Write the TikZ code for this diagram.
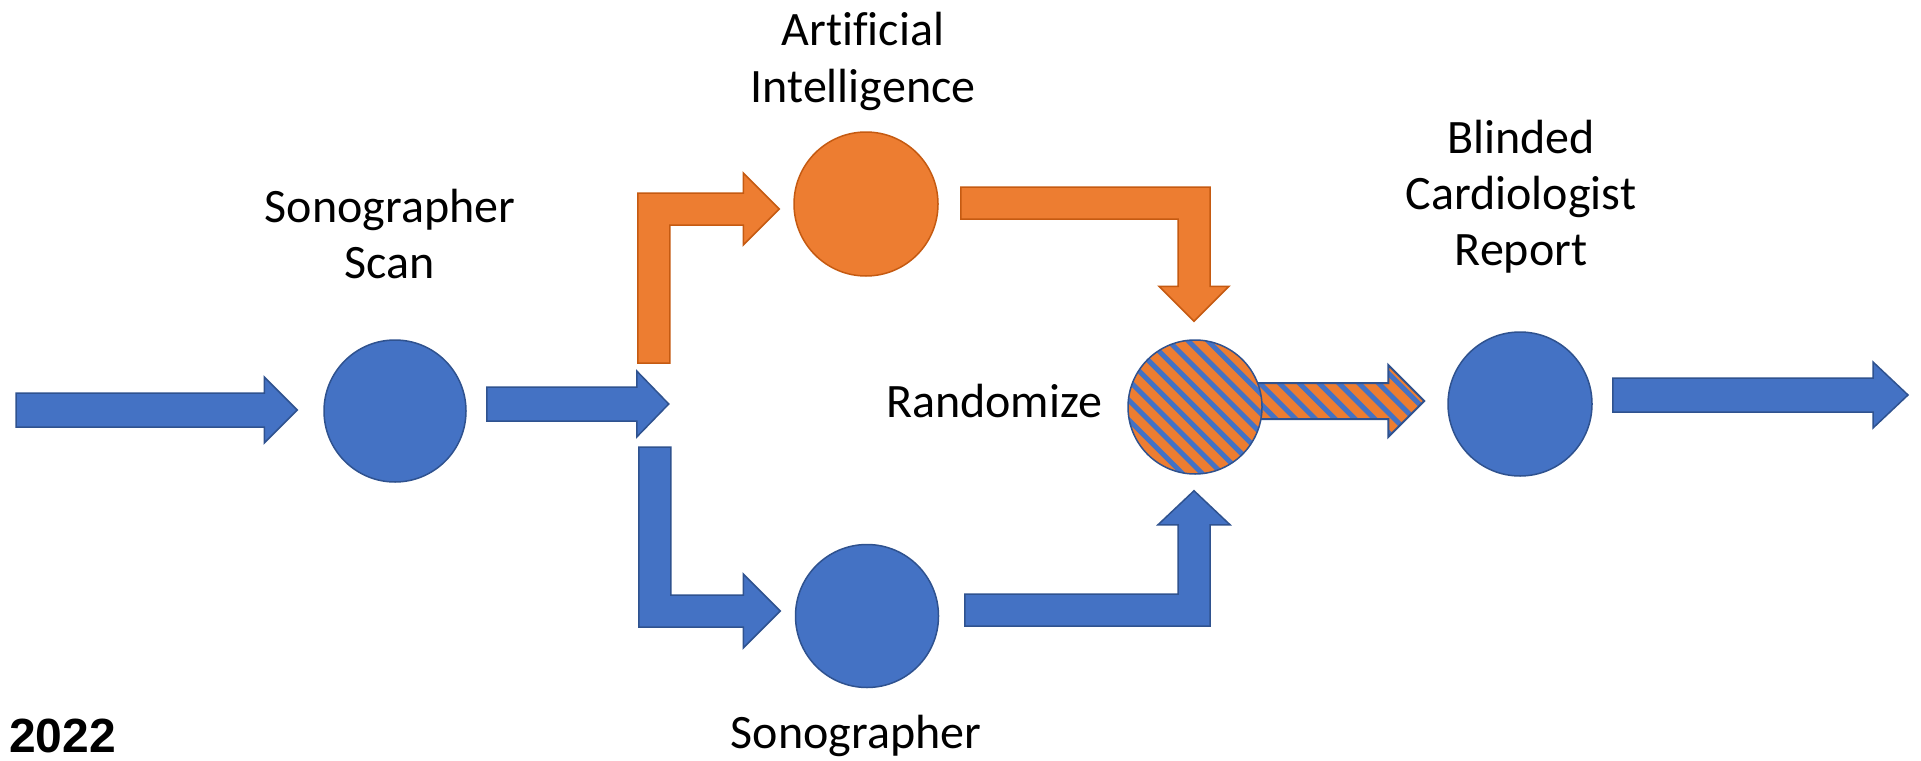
\documentclass[tikz,border=0pt]{standalone}
\usepackage{fontspec}
\setmainfont{Carlito}[Ligatures=NoCommon]
\newfontfamily\yearfont{Liberation Sans}
\usetikzlibrary{calc}

\definecolor{ablue}{HTML}{4472C4}
\definecolor{abluedark}{HTML}{2F528F}
\definecolor{aorange}{HTML}{ED7D31}
\definecolor{aorangedark}{HTML}{C55A11}

\tikzset{
  disc/.style={circle, inner sep=0pt, minimum size=#1, line width=1.5pt},
  bluedisc/.style={disc=#1, fill=ablue, draw=abluedark},
  orangedisc/.style={disc=#1, fill=aorange, draw=aorangedark},
  bluearrow/.style={fill=ablue, draw=abluedark, line width=1.5pt, line join=miter},
  orangearrow/.style={fill=aorange, draw=aorangedark, line width=1.5pt, line join=miter},
  txt/.style={font=\fontsize{48}{56}\selectfont, align=center, inner sep=0pt, anchor=base},
  stripe/.style={draw=ablue, line width=5pt},
}

% straight block arrow: #1 options, #2 tail, #3 tip, #4 half shaft, #5 half head, #6 head length
\newcommand\blockarrow[6]{%
  \path[#1] ($(#2 |- #3)+(0,-#4)$) -- ($(#3)+(-#6,-#4)$) -- ($(#3)+(-#6,-#5)$) -- (#3)
    -- ($(#3)+(-#6,#5)$) -- ($(#3)+(-#6,#4)$) -- ($(#2 |- #3)+(0,#4)$) -- cycle;}

% elbow arrow, vertical leg first then right to the tip
% #4 = 1 when the vertical leg runs down, -1 when it runs up
% #5 half bar width, #6 half head width, #7 head length
\newcommand\vhelbow[7]{%
  \pgfmathsetmacro\elbA{(#4)*#5}\pgfmathsetmacro\elbB{-1*(#4)*#5}%
  \pgfmathsetmacro\elbC{(#4)*#6}\pgfmathsetmacro\elbD{-1*(#4)*#6}%
  \path[#1] ($(#2)+(-#5,0)$) -- ($(#2 |- #3)+(-#5,\elbA)$) -- ($(#3)+(-#7,\elbA)$)
    -- ($(#3)+(-#7,\elbC)$) -- (#3) -- ($(#3)+(-#7,\elbD)$) -- ($(#3)+(-#7,\elbB)$)
    -- ($(#2 |- #3)+(#5,\elbB)$) -- ($(#2)+(#5,0)$) -- cycle;}

% elbow arrow, horizontal leg first (to the right) then vertical to the tip
% #4 = 1 when the vertical leg runs down, -1 when it runs up
\newcommand\hvelbow[7]{%
  \pgfmathsetmacro\elbA{(#4)*#5}\pgfmathsetmacro\elbB{-1*(#4)*#5}%
  \pgfmathsetmacro\elbL{-1*(#4)*#7}%
  \path[#1] ($(#2)+(0,\elbB)$) -- ($(#3 |- #2)+(#5,\elbB)$) -- ($(#3)+(#5,\elbL)$)
    -- ($(#3)+(#6,\elbL)$) -- (#3) -- ($(#3)+(-#6,\elbL)$) -- ($(#3)+(-#5,\elbL)$)
    -- ($(#3 |- #2)+(-#5,\elbA)$) -- ($(#2)+(0,\elbA)$) -- cycle;}

\begin{document}
\begin{tikzpicture}[x=1pt, y=-1pt]
  \fill[white] (0,0) rectangle (1921,760);
  \useasboundingbox (0,0) rectangle (1921,760);

  % stations
  \node[bluedisc=142pt]   (scan)  at (395,411)  {};
  \node[orangedisc=144pt] (ai)    at (866,204)  {};
  \node[bluedisc=143pt]   (sono)  at (867,616)  {};
  \node[disc=134pt]       (rand)  at (1195,407) {};
  \node[bluedisc=144pt]   (blind) at (1520,404) {};

  % arrow end points
  \coordinate (src)      at (16,410);
  \coordinate (scanin)   at ($(scan.west)+(-26,-1)$);
  \coordinate (scanout)  at ($(scan.east)+(20,-7)$);
  \coordinate (fork)     at ($(scan.east)+(202,-7)$);
  \coordinate (upfork)   at ($(fork)+(-15,-41)$);
  \coordinate (downfork) at ($(fork)+(-14,43)$);
  \coordinate (aiin)     at ($(ai.west)+(-14,5)$);
  \coordinate (aiout)    at ($(ai.east)+(22,-1)$);
  \coordinate (randtop)  at ($(rand.north)+(-1,-18)$);
  \coordinate (sonoin)   at ($(sono.west)+(-14.5,-5)$);
  \coordinate (sonoout)  at ($(sono.east)+(25.5,-6)$);
  \coordinate (randbot)  at ($(rand.south)+(-1,16)$);
  \coordinate (randout)  at ($(rand.east)+(-5,-6)$);
  \coordinate (blindin)  at ($(blind.west)+(-23,-3)$);
  \coordinate (blindout) at ($(blind.east)+(20,-9)$);
  \coordinate (sink)     at (1908,395);

  % main line
  \blockarrow{bluearrow}{src}{scanin}{17}{33}{33}
  \blockarrow{bluearrow}{scanout}{fork}{17}{33}{32}
  \blockarrow{bluearrow}{blindout}{sink}{17}{33}{35}

  % AI branch
  \vhelbow{orangearrow}{upfork}{aiin}{-1}{16}{36}{36}
  \hvelbow{orangearrow}{aiout}{randtop}{1}{16}{35}{35}

  % sonographer branch
  \vhelbow{bluearrow}{downfork}{sonoin}{1}{16}{37}{37}
  \hvelbow{bluearrow}{sonoout}{randbot}{-1}{16}{36}{34}

  % striped arrow out of the randomizer
  \begin{scope}
    \blockarrow{clip}{randout}{blindin}{18}{36}{36}
    \fill[aorange] ($(randout)+(0,-60)$) rectangle ($(blindin)+(10,60)$);
    \foreach \k in {-6,...,16}
      \draw[stripe] ($(randout)+(\k*19.8-60,-60)$) -- ++(120,120);
  \end{scope}
  \blockarrow{draw=abluedark, line width=2pt, line join=miter}{randout}{blindin}{18}{36}{36}

  % striped randomizer disc
  \begin{scope}
    \clip (rand.center) circle[radius=67pt];
    \fill[aorange] (rand.center) circle[radius=67pt];
    \foreach \k in {-12,...,12}
      \draw[stripe] ($(rand.center)+(\k*19.8-120,-120)$) -- ++(240,240);
  \end{scope}
  \draw[abluedark, line width=1.5pt] (rand.center) circle[radius=67pt];

  % captions (anchored at the baseline of their last line)
  \node[txt] (scanlbl)  at (390,278)  {Sonographer\\Scan};
  \node[txt] (ailbl)    at (863,102)  {Artificial\\Intelligence};
  \node[txt] (randlbl)  at (994,417)  {Randomize};
  \node[txt] (sonolbl)  at (856,748)  {Sonographer};
  \node[txt] (blindlbl) at (1521,265) {Blinded\\Cardiologist\\Report};
  \node[font=\yearfont\bfseries\fontsize{48}{56}\selectfont, anchor=base west, inner sep=0pt]
    (year) at (9,752) {2022};
\end{tikzpicture}
\end{document}
